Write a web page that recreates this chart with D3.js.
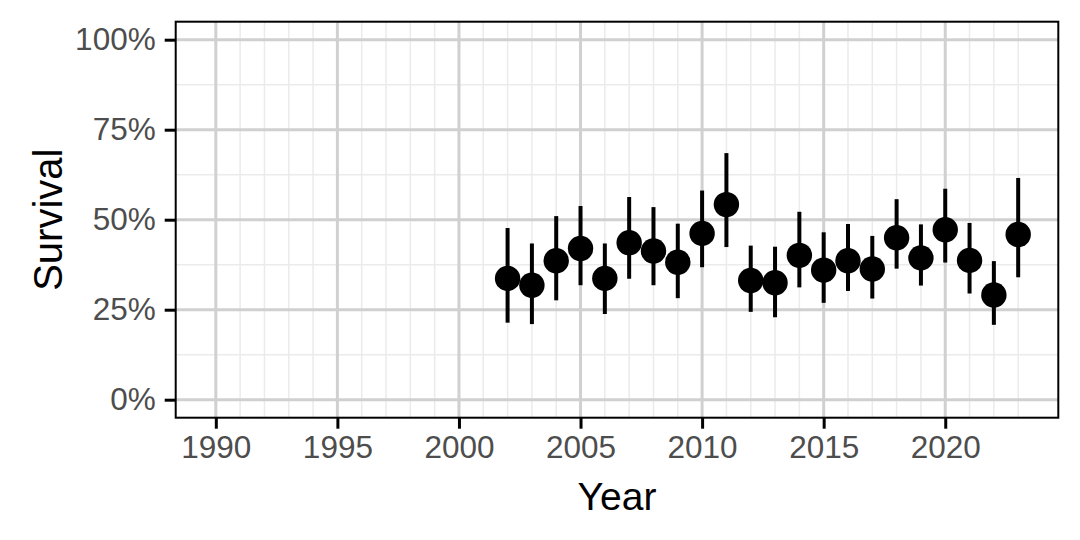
<!DOCTYPE html>
<html>
<head>
<meta charset="utf-8">
<script src="https://cdn.jsdelivr.net/npm/d3@7"></script>
<style>
  html, body { margin: 0; padding: 0; background: #fff; }
  svg { display: block; font-family: "Liberation Sans", Arial, Helvetica, sans-serif; }
</style>
</head>
<body>
<div id="chart"></div>
<script>
// survival estimates per year with lower / upper bounds
const years = [2002, 2003, 2004, 2005, 2006, 2007, 2008, 2009, 2010, 2011, 2012,
  2013, 2014, 2015, 2016, 2017, 2018, 2019, 2020, 2021, 2022, 2023];
const survival = [0.337, 0.318, 0.386, 0.420, 0.337, 0.436, 0.413, 0.382, 0.462, 0.542, 0.331,
  0.325, 0.401, 0.360, 0.386, 0.363, 0.450, 0.394, 0.472, 0.387, 0.291, 0.459];
const lower = [0.214, 0.210, 0.276, 0.318, 0.238, 0.336, 0.318, 0.282, 0.368, 0.424, 0.244,
  0.229, 0.312, 0.269, 0.302, 0.281, 0.364, 0.317, 0.381, 0.295, 0.208, 0.340];
const upper = [0.477, 0.434, 0.510, 0.538, 0.434, 0.563, 0.535, 0.489, 0.581, 0.685, 0.428,
  0.425, 0.522, 0.465, 0.488, 0.455, 0.557, 0.487, 0.586, 0.491, 0.385, 0.616];

const xTicks = [1990, 1995, 2000, 2005, 2010, 2015, 2020];
const xMinor = d3.range(1990, 2024).filter(y => y % 5 !== 0);
const yTicks = [0, 0.25, 0.5, 0.75, 1];
const yMinor = [0.125, 0.375, 0.625, 0.875];

const data = years.map((yr, i) => ({ year: yr, est: survival[i], lo: lower[i], hi: upper[i] }));

const W = 1080, H = 540;
const margin = { top: 21.7, right: 21.7, bottom: 122.3, left: 175.7 };
const width = W - margin.left - margin.right,
  height = H - margin.top - margin.bottom;

const svg = d3.select("#chart").append("svg")
  .attr("width", W)
  .attr("height", H);

const g = svg.append("g").attr("transform", `translate(${margin.left},${margin.top})`);

// ggplot-style 5% expansion on both axes
const x = d3.scaleLinear().domain([1988.35, 2024.65]).range([0, width]);
const y = d3.scaleLinear().domain([-0.05, 1.05]).range([height, 0]);

// minor grid
g.append("g").selectAll("line").data(xMinor).join("line")
  .attr("x1", d => x(d)).attr("x2", d => x(d))
  .attr("y1", 0).attr("y2", height)
  .attr("stroke", "#ebebeb").attr("stroke-width", 1.5);
g.append("g").selectAll("line").data(yMinor).join("line")
  .attr("x1", 0).attr("x2", width)
  .attr("y1", d => y(d)).attr("y2", d => y(d))
  .attr("stroke", "#ebebeb").attr("stroke-width", 1.5);

// major grid
g.append("g").selectAll("line").data(xTicks).join("line")
  .attr("x1", d => x(d)).attr("x2", d => x(d))
  .attr("y1", 0).attr("y2", height)
  .attr("stroke", "#d0d0d0").attr("stroke-width", 3);
g.append("g").selectAll("line").data(yTicks).join("line")
  .attr("x1", 0).attr("x2", width)
  .attr("y1", d => y(d)).attr("y2", d => y(d))
  .attr("stroke", "#d0d0d0").attr("stroke-width", 3);

// error bars
g.append("g").selectAll("line").data(data).join("line")
  .attr("x1", d => x(d.year)).attr("x2", d => x(d.year))
  .attr("y1", d => y(d.lo)).attr("y2", d => y(d.hi))
  .attr("stroke", "#000").attr("stroke-width", 4);

// points
g.append("g").selectAll("circle").data(data).join("circle")
  .attr("cx", d => x(d.year))
  .attr("cy", d => y(d.est))
  .attr("r", 12.7)
  .attr("fill", "#000");

// panel border
g.append("rect")
  .attr("width", width).attr("height", height)
  .attr("fill", "none").attr("stroke", "#000").attr("stroke-width", 2);

// axes
const xAxis = g.append("g")
  .attr("transform", `translate(0,${height})`)
  .call(d3.axisBottom(x).tickValues(xTicks).tickFormat(d3.format("d")).tickSize(11).tickPadding(7));
const yAxis = g.append("g")
  .call(d3.axisLeft(y).tickValues(yTicks).tickFormat(d3.format(".0%")).tickSize(11).tickPadding(9));

[xAxis, yAxis].forEach(a => {
  a.select(".domain").remove();
  a.selectAll(".tick line").attr("stroke", "#000").attr("stroke-width", 3);
  a.selectAll(".tick text")
    .attr("fill", "#4d4d4d")
    .attr("font-size", 31.5)
    .attr("font-family", "'Liberation Sans', Arial, sans-serif");
});

// axis titles
svg.append("text")
  .attr("x", margin.left + width / 2)
  .attr("y", 510)
  .attr("text-anchor", "middle")
  .attr("font-size", 39)
  .attr("fill", "#000")
  .text("Year");

svg.append("text")
  .attr("transform", `translate(61.5,${margin.top + height / 2}) rotate(-90)`)
  .attr("text-anchor", "middle")
  .attr("font-size", 40)
  .attr("fill", "#000")
  .text("Survival");
</script>
</body>
</html>
